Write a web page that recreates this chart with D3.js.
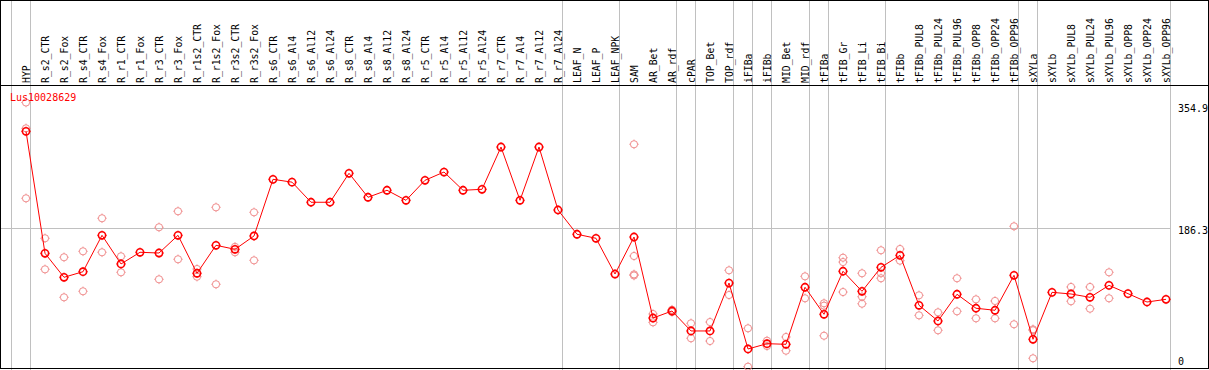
<!DOCTYPE html>
<html><head><meta charset="utf-8">
<script src="https://cdn.jsdelivr.net/npm/d3@7/dist/d3.min.js"></script>
<style>body{margin:0;background:#fff}svg{display:block}text{font-family:"DejaVu Sans Mono",monospace}</style>
</head><body><svg id="c" width="1209" height="370"></svg>
<script>
const title = "Lus10028629";
const categories = ["HYP","R_s2_CTR","R_s2_Fox","R_s4_CTR","R_s4_Fox","R_r1_CTR","R_r1_Fox","R_r3_CTR","R_r3_Fox","R_r1s2_CTR","R_r1s2_Fox","R_r3s2_CTR","R_r3s2_Fox","R_s6_CTR","R_s6_Al4","R_s6_Al12","R_s6_Al24","R_s8_CTR","R_s8_Al4","R_s8_Al12","R_s8_Al24","R_r5_CTR","R_r5_Al4","R_r5_Al12","R_r5_Al24","R_r7_CTR","R_r7_Al4","R_r7_Al12","R_r7_Al24","LEAF_N","LEAF_P","LEAF_NPK","SAM","AR_Bet","AR_rdf","cPAR","TOP_Bet","TOP_rdf","iFIBa","iFIBb","MID_Bet","MID_rdf","tFIBa","tFIB_Gr","tFIB_Li","tFIB_Bi","tFIBb","tFIBb_PUL8","tFIBb_PUL24","tFIBb_PUL96","tFIBb_OPP8","tFIBb_OPP24","tFIBb_OPP96","sXYLa","sXYLb","sXYLb_PUL8","sXYLb_PUL24","sXYLb_PUL96","sXYLb_OPP8","sXYLb_OPP24","sXYLb_OPP96"];
const means = [316.2,152.3,120.1,127.6,176.5,138.0,153.7,152.7,176.5,125.5,163.1,157.7,175.6,251.7,247.9,220.9,220.9,259.8,227.6,237.0,223.5,250.4,261.5,237.0,238.3,295.1,223.5,295.1,210.5,177.9,172.5,124.5,174.2,65.4,74.8,48.0,48.0,112.4,23.8,30.9,30.1,106.7,70.4,128.2,101.3,133.5,149.6,82.5,61.4,97.3,78.5,75.8,122.8,36.8,99.9,97.7,93.2,109.3,98.1,86.9,90.5];
const replicates = [[354.9,320.2,226.2],[172.5,130.8],[147.0,93.2],[155.0,101.3],[199.4,153.7],[148.3,126.8],[],[187.3,117.4],[208.8,144.3],[131.2,120.9],[214.1,110.7],[153.7,161.0],[207.4,142.9],[],[],[],[],[],[],[],[],[],[],[],[],[],[],[],[],[],[],[],[298.8,148.7,124.0,122.5],[70.8,59.6],[76.5,73.5],[58.3,38.2],[60.0,34.5],[129.5,96.3],[51.6,0],[34.9,27.8],[39.9,21.5],[121.4,91.9],[85.2,82.0,41.6],[146.4,140.6,100.3],[125.5,94.0,84.6],[156.4,125.5,118.8],[158.1,142.4],[95.9,69.0],[73.1,48.9],[118.8,74.4],[90.5,65.0],[88.3,65.0],[188.6,57.0],[50.2,48.9,11.3],[],[107.1,87.9],[107.1,77.9],[126.8,91.9],[],[],[]];
const groupEnds = ["HYP","R_r7_Al24","LEAF_NPK","AR_rdf","cPAR","TOP_rdf","iFIBa","iFIBb","MID_rdf","tFIBa","tFIB_Bi","tFIBb_OPP96","sXYLa","sXYLb_OPP96"];
const yTicks = [0, 186.3, 354.9];
const gridValues = [186.3];

const svg = d3.select("#c");
const W = 1209, H = 370;
const x = d3.scalePoint().domain(categories).range([26, 1166]);
const step = x.step();
const y = d3.scaleLinear().domain([0, 354.9]).range([366.7, 102.5]);

// vertical separators
const sepX = [x(categories[0]) - step].concat(groupEnds.map(c => x(c)));
svg.selectAll("line.vsep").data(sepX).enter().append("line")
  .attr("x1", d => Math.round(d + 4) + 0.5).attr("x2", d => Math.round(d + 4) + 0.5)
  .attr("y1", 0).attr("y2", H).attr("stroke", "#c0c0c0").attr("stroke-width", 1);
// horizontal grid
svg.selectAll("line.hg").data(gridValues).enter().append("line")
  .attr("x1", 0).attr("x2", Math.round(x(categories[categories.length-1]) + 4) + 0.5)
  .attr("y1", d => Math.round(y(d)) + 0.5).attr("y2", d => Math.round(y(d)) + 0.5)
  .attr("stroke", "#c0c0c0");

// frame
svg.append("rect").attr("x", 0.5).attr("y", 0.5).attr("width", 1208).attr("height", 368)
  .attr("fill", "none").attr("stroke", "#000");
svg.append("line").attr("x1", 0).attr("x2", W).attr("y1", 85.5).attr("y2", 85.5).attr("stroke", "#000");

// category labels
svg.selectAll("text.cat").data(categories).enter().append("text")
  .attr("transform", d => `translate(${x(d) + 3.5},83) rotate(-90)`)
  .attr("font-size", "9.8px").attr("fill", "#000").text(d => d);

// y tick labels
svg.selectAll("text.yt").data(yTicks).enter().append("text")
  .attr("x", 1178).attr("text-anchor", "start").attr("font-size", "10px")
  .attr("y", (d, i) => i === 0 ? y(d) - 1.5 : (i === yTicks.length - 1 ? y(d) + 9 : y(d) + 5.5))
  .text(d => d);

// marker drawer
function marker(g, cx, cy, color, sw) {
  const r = 3.6;
  g.append("circle").attr("cx", cx).attr("cy", cy).attr("r", r).attr("fill", "none")
    .attr("stroke", color).attr("stroke-width", sw);
  [[0,-1],[0,1],[-1,0],[1,0]].forEach(([dx, dy]) => {
    g.append("line").attr("x1", cx + dx * r).attr("y1", cy + dy * r)
      .attr("x2", cx + dx * (r + 1.2)).attr("y2", cy + dy * (r + 1.2))
      .attr("stroke", color).attr("stroke-width", 0.8);
  });
}

// replicates
const repG = svg.append("g");
categories.forEach((c, i) => {
  replicates[i].forEach(v => marker(repG, x(c), y(v), "#f08c8c", 1));
});

// line
svg.append("path").datum(means)
  .attr("d", d3.line().x((d, i) => x(categories[i])).y(d => y(d)))
  .attr("fill", "none").attr("stroke", "#ff0000").attr("stroke-width", 1);

// mean markers
const mG = svg.append("g");
means.forEach((v, i) => marker(mG, x(categories[i]), y(v), "#ff0000", 1.6));

// title
svg.append("text").attr("x", 10).attr("y", 100.7).attr("font-size", "10px")
  .attr("fill", "#ff0000").text(title);
</script></body></html>
